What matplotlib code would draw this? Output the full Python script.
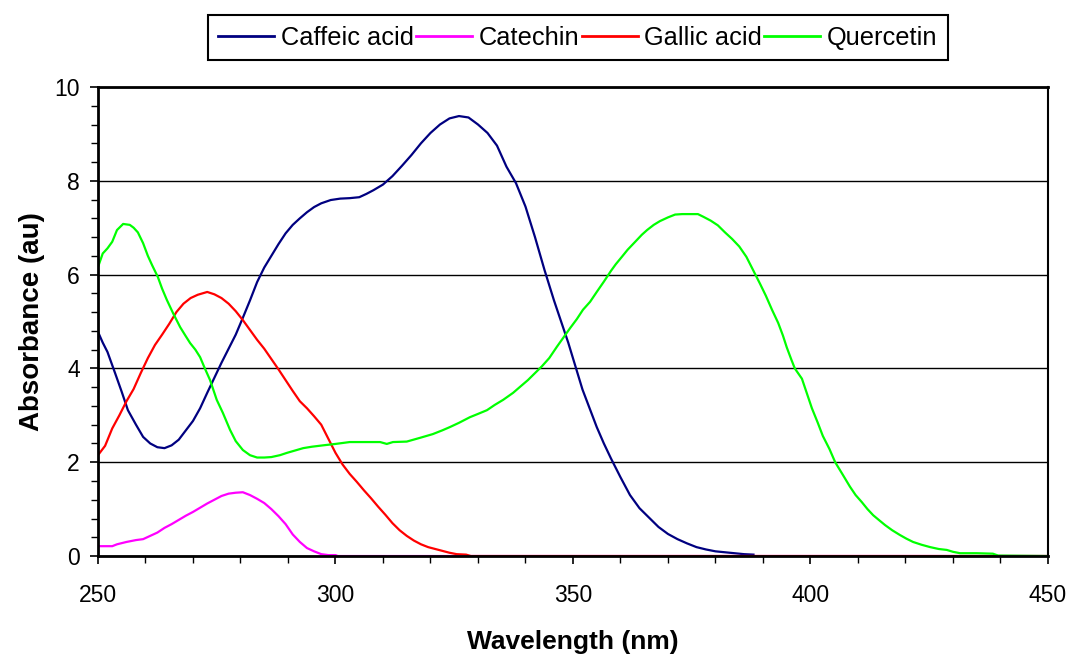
import matplotlib
matplotlib.use('Agg')
import matplotlib.pyplot as plt
from matplotlib.ticker import MultipleLocator

plt.rcParams['font.family'] = ['Liberation Sans', 'DejaVu Sans']

# Caffeic acid
caffeic_wl = [250, 251, 252, 253.6, 255, 256.3, 258, 259.5, 261, 262.5, 264, 265.5, 267, 268.5,
              270, 271.5, 273, 274.5, 276, 277.5, 279, 280.5, 282, 283.5, 285, 286.5, 288, 289.5,
              291, 292.5, 294, 295.5, 297, 299, 301, 303, 305, 306.5, 308, 310, 312, 314, 316,
              318, 320, 322, 324, 326, 328, 330, 332, 334, 336, 338, 340, 342, 344, 346, 347.5,
              349, 350.5, 352, 353.5, 355, 356.5, 358, 360, 362, 364, 366, 368, 370, 372, 374,
              376, 378, 380, 382, 384, 386, 388]
caffeic_abs = [4.78, 4.55, 4.35, 3.9, 3.5, 3.11, 2.8, 2.54, 2.4, 2.32, 2.3, 2.36, 2.48, 2.68,
               2.88, 3.15, 3.48, 3.8, 4.12, 4.42, 4.72, 5.08, 5.45, 5.84, 6.15, 6.4, 6.65, 6.88,
               7.06, 7.2, 7.33, 7.44, 7.52, 7.59, 7.62, 7.63, 7.65, 7.72, 7.8, 7.92, 8.1, 8.32, 8.55,
               8.8, 9.02, 9.2, 9.33, 9.38, 9.35, 9.2, 9.02, 8.75, 8.3, 7.95, 7.45, 6.8, 6.1, 5.45, 5.0,
               4.55, 4.05, 3.55, 3.15, 2.75, 2.4, 2.08, 1.68, 1.3, 1.02, 0.82, 0.62, 0.47, 0.36, 0.27,
               0.19, 0.14, 0.1, 0.08, 0.06, 0.04, 0.03]

# Catechin
catechin_wl = [250, 253, 254, 256, 258, 259.5, 261, 262.5, 264, 265.5, 267, 268.5, 270, 271.5,
               273, 274.5, 276, 277.5, 279, 280.5, 282, 283.5, 285, 286.5, 288, 289.5, 291,
               292.5, 294, 295.5, 297, 298.5, 300, 300.5, 450]
catechin_abs = [0.21, 0.21, 0.25, 0.3, 0.34, 0.36, 0.43, 0.5, 0.6, 0.68, 0.77, 0.86, 0.94, 1.03,
                1.12, 1.2, 1.28, 1.33, 1.35, 1.36, 1.3, 1.22, 1.13, 1.0, 0.85, 0.68, 0.46,
                0.3, 0.17, 0.1, 0.04, 0.02, 0.02, 0, 0]

# Gallic acid
gallic_wl = [250, 251.5, 253, 254.5, 256, 257.5, 259, 260.5, 262, 263.5, 265, 266.5, 268, 269.5,
             271, 273, 274.5, 276, 277.5, 279, 280.5, 282, 283.5, 285, 286.5, 288, 289.5, 291,
             292.5, 294, 295.5, 297, 298.5, 300, 301.5, 303, 304.5, 306, 307.5, 309, 310.5, 312,
             313.5, 315, 316.5, 318, 319.5, 321, 322.5, 324, 325.5, 327.5, 328.5, 450]
gallic_abs = [2.15, 2.35, 2.72, 3.0, 3.3, 3.56, 3.9, 4.22, 4.5, 4.72, 4.95, 5.2, 5.38, 5.5,
              5.57, 5.63, 5.58, 5.5, 5.38, 5.22, 5.03, 4.82, 4.61, 4.42, 4.2, 3.98, 3.75, 3.52,
              3.3, 3.15, 2.98, 2.8, 2.5, 2.2, 1.95, 1.75, 1.58, 1.4, 1.23, 1.05, 0.88, 0.7,
              0.55, 0.43, 0.33, 0.25, 0.19, 0.15, 0.11, 0.07, 0.04, 0.03, 0, 0]

# Quercetin
quercetin_wl = [250, 251, 252, 253, 254, 255.3, 256.7, 257.5, 258.4, 259.5, 260.5, 261.4, 262.6,
                263.5, 264.5, 265.8, 267.3, 268.4, 269.4, 270.5, 271.5, 272.5, 273.6, 275, 276.3,
                277.8, 279, 280.5, 282, 283.5, 285, 286.5, 288.3, 289.8, 291.5, 293.2, 295, 297.4,
                300, 303, 306, 309.4, 310.8, 312.1, 315, 317.8, 320.5, 322.5, 324.1, 326, 328.3,
                330, 331.9, 333.5, 335.3, 337.4, 339, 340.5, 342, 343.5, 345, 346.6, 348, 349.4,
                350.8, 352.1, 353.6, 355, 356.5, 358, 359, 360.3, 361.5, 363.1, 364.5, 365.6, 367,
                368.3, 370, 371.5, 373, 376.3, 377.5, 379, 380.5, 382, 383.5, 385, 386.5, 388,
                389.4, 390.6, 391.9, 393.2, 394.2, 395, 396, 396.7, 398.2, 399.3, 400.3, 401.5,
                402.6, 404, 405.2, 406.7, 408.3, 409.5, 410.8, 412, 413.2, 414.5, 415.7, 417.2,
                418.8, 420.2, 421.6, 423.4, 425.2, 427, 428.7, 430, 431.5, 435, 438.4, 439.5, 450]
quercetin_abs = [6.16, 6.45, 6.56, 6.7, 6.95, 7.08, 7.06, 7.0, 6.9, 6.67, 6.4, 6.2, 5.95,
                 5.7, 5.46, 5.18, 4.88, 4.7, 4.54, 4.4, 4.24, 4.0, 3.75, 3.33, 3.05,
                 2.69, 2.45, 2.26, 2.15, 2.1, 2.1, 2.11, 2.15, 2.2, 2.25, 2.3, 2.33, 2.36,
                 2.39, 2.43, 2.43, 2.43, 2.39, 2.43, 2.44, 2.52, 2.6, 2.68, 2.75, 2.84, 2.96,
                 3.03, 3.11, 3.22, 3.33, 3.48, 3.62, 3.75, 3.9, 4.05, 4.22, 4.46, 4.66, 4.86,
                 5.05, 5.25, 5.42, 5.63, 5.85, 6.08, 6.22, 6.38, 6.53, 6.7, 6.85, 6.95, 7.06,
                 7.14, 7.22, 7.28, 7.29, 7.29, 7.23, 7.15, 7.05, 6.9, 6.76, 6.6, 6.38, 6.08,
                 5.8, 5.55, 5.25, 4.97, 4.7, 4.45, 4.18, 4.0, 3.78, 3.45, 3.15, 2.85,
                 2.56, 2.28, 2.0, 1.75, 1.48, 1.3, 1.15, 1.0, 0.87, 0.76, 0.66, 0.55,
                 0.45, 0.37, 0.3, 0.24, 0.19, 0.15, 0.13, 0.09, 0.06, 0.06, 0.05, 0.01, 0]

fig = plt.figure(figsize=(10.72, 6.54), dpi=100)
ax = fig.add_axes([0.0914, 0.1498, 0.8862, 0.7172])

ax.plot(caffeic_wl, caffeic_abs, color='#000080', lw=1.6, label='Caffeic acid')
ax.plot(catechin_wl, catechin_abs, color='#FF00FF', lw=1.6, label='Catechin')
ax.plot(gallic_wl, gallic_abs, color='#FF0000', lw=1.6, label='Gallic acid')
ax.plot(quercetin_wl, quercetin_abs, color='#00FF00', lw=1.6, label='Quercetin')

ax.set_xlim(250, 450)
ax.set_ylim(0, 10)
ax.xaxis.set_major_locator(MultipleLocator(50))
ax.xaxis.set_minor_locator(MultipleLocator(10))
ax.yaxis.set_major_locator(MultipleLocator(2))
ax.yaxis.set_minor_locator(MultipleLocator(0.4))
ax.grid(axis='y', which='major', color='black', lw=1.0)
ax.set_axisbelow(True)

for side in ['left', 'bottom', 'top']:
    ax.spines[side].set_linewidth(2.0)
ax.spines['right'].set_linewidth(1.5)

ax.tick_params(axis='both', which='major', direction='out', length=6, width=1.2,
               labelsize=16.5, pad=7)
ax.tick_params(axis='both', which='minor', direction='out', length=5, width=1.0)
ax.tick_params(axis='x', which='major', pad=14)

ax.set_xlabel('Wavelength (nm)', fontsize=19, fontweight='bold', labelpad=17)
ax.set_ylabel('Absorbance (au)', fontsize=20, fontweight='bold', labelpad=7)

leg = fig.legend(loc='upper center', bbox_to_anchor=(0.539, 0.977), ncol=4,
                 fontsize=18.3, frameon=True, fancybox=False, edgecolor='black',
                 framealpha=1, handlelength=2.2, handletextpad=0.25,
                 columnspacing=0.1, borderpad=0.42, borderaxespad=0)
leg.get_frame().set_linewidth(1.5)
for line in leg.get_lines():
    line.set_linewidth(2.0)

fig.savefig('out.png', dpi=100)
